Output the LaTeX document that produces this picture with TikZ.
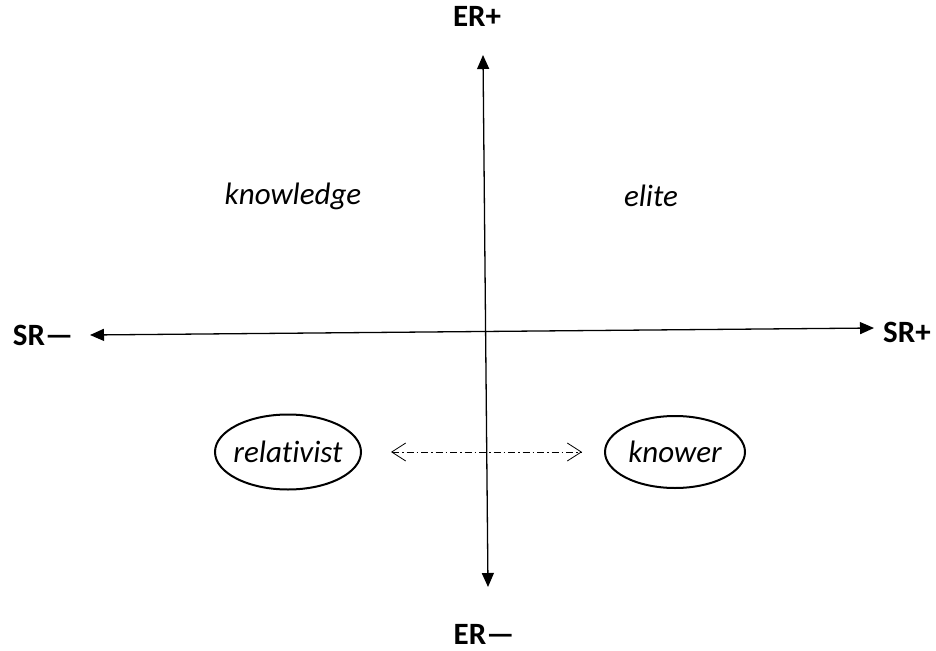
\documentclass[tikz,border=0pt]{standalone}
\usepackage{fontspec}
\setmainfont[Ligatures={NoCommon}]{Carlito}
\usetikzlibrary{arrows.meta,shapes.geometric}
\begin{document}
\begin{tikzpicture}[x=1pt,y=-1pt,
  axis/.style={line width=1.3pt,{Triangle[length=14pt,width=12pt]}-{Triangle[length=14pt,width=12pt]}},
  axislabel/.style={font=\fontsize{31}{36}\selectfont\bfseries,inner sep=0pt},
  quad/.style={font=\fontsize{31}{36}\selectfont\itshape,inner sep=0pt},
  bubble/.style={draw,line width=2pt,ellipse,font=\fontsize{31}{36}\selectfont\itshape,minimum width=#1,minimum height=75pt,inner sep=0pt,inner xsep=-3.5pt},
  link/.style={line width=0.8pt,dash pattern=on 7pt off 3pt on 1.5pt off 3pt,
    {Straight Barb[length=14pt,width=18pt,line width=0.8pt]}-{Straight Barb[length=14pt,width=18pt,line width=0.8pt]}}]
\useasboundingbox (0,0) rectangle (936,650);
% axis end points
\coordinate (top) at (483,55);
\coordinate (bot) at (488,587);
\coordinate (lft) at (90,335);
\coordinate (rgt) at (874,328);
\draw[axis] (bot) -- (top);
\draw[axis] (lft) -- (rgt);
% axis labels
\node[axislabel] (erp) at (477,16) {ER+};
\node[axislabel] (erm) at (484,634) {ER—};
\node[axislabel] (srm) at (43,335) {SR—};
\node[axislabel] (srp) at (907,332) {SR+};
% quadrant names
\node[quad] (know) at (293,196) {knowledge};
\node[quad] (elite) at (651,196) {elite};
% lower codes
\node[bubble=146pt] (rel) at (288,452) {relativist};
\node[bubble=140pt,minimum height=72pt] (kno) at (675,452) {knower};
\draw[link] ([xshift=29pt]rel.east) -- ([xshift=-22pt]kno.west);
\end{tikzpicture}
\end{document}
